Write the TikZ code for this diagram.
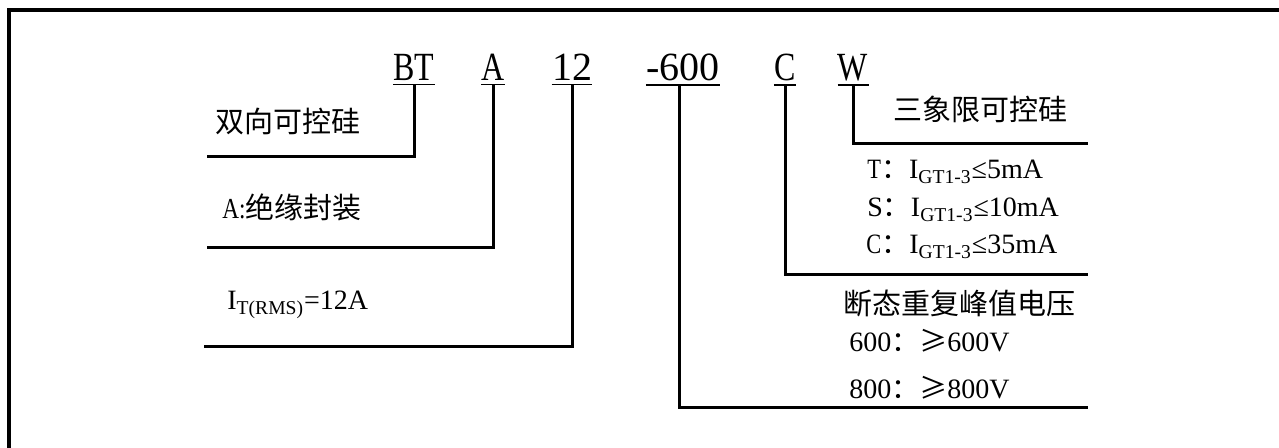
\documentclass[tikz,border=0pt]{standalone}
\usepackage{fontspec}
\setmainfont{Liberation Serif}
\newfontfamily\cjk{Noto Sans CJK SC}
\newfontfamily\codefont[FakeStretch=0.8]{Liberation Serif}

\begin{document}
\begin{tikzpicture}[
    x=0.5pt, y=-0.5pt,
    code/.style={
        font=\codefont\fontsize{20}{24}\selectfont,
        anchor=base, inner xsep=0pt, inner ysep=1.5pt
    },
    codenum/.style={code, font=\rmfamily\fontsize{20}{24}\selectfont},
    cjklabel/.style={
        font=\cjk\fontsize{14.5}{17}\selectfont,
        anchor=base west, inner sep=0pt
    },
    spec/.style={
        font=\fontsize{14}{17}\selectfont,
        anchor=base west, inner sep=0pt
    },
    lead/.style={line width=1.5pt},
    uline/.style={line width=0.8pt},
    frame/.style={line width=2pt}
]
\useasboundingbox (0,0) rectangle (1279,448);

% --------------------------------------------------------------------------
% Part number, one underlined field per code letter group.
% --------------------------------------------------------------------------
\node[code] (bt) at (414,81) {BT};
\node[code] (typa) at (493,81) {A};
\node[codenum] (amp) at (572,81) {12};
\node[codenum] (volt) at (683,81) {-600};
\node[code] (gate) at (785,81) {C};
\node[code] (quad) at (853,81) {W};

\foreach \n in {bt,typa,amp,volt,gate,quad}
    \draw[uline] (\n.south west) -- (\n.south east);

% Left-hand explanations.
\node[cjklabel] (triac) at (215,133) {双向可控硅};
\node[cjklabel] (pkg) at (222,219) {{\codefont A:}绝缘封装};
\node[spec] (irms) at (227,310) {I\textsubscript{T(RMS)}=12A};

% Right-hand explanations.
\node[cjklabel] (quadr) at (893,121) {三象限可控硅};
\node[spec] (gt) at (867,179) {{\codefont T}{\cjk ：}I\textsubscript{GT1-3}≤5mA};
\node[spec] (gs) at (867,217) {S{\cjk ：}I\textsubscript{GT1-3}≤10mA};
\node[spec] (gc) at (866,254) {{\codefont C}{\cjk ：}I\textsubscript{GT1-3}≤35mA};
\node[cjklabel] (vdrm) at (843,315) {断态重复峰值电压};
\node[spec] (v600) at (849,352) {600{\cjk ：≥}600V};
\node[spec] (v800) at (849,399) {800{\cjk ：≥}800V};

% Leader lines ends.
\coordinate (btend) at (207,157);
\coordinate (typaend) at (207,248);
\coordinate (ampend) at (204,347);
\coordinate (voltend) at (1088,408);
\coordinate (gateend) at (1088,275);
\coordinate (quadend) at (1088,144);

\draw[lead] (bt.south) |- (btend);
\draw[lead] (typa.south) |- (typaend);
\draw[lead] (amp.south) |- (ampend);
\draw[lead] ([xshift=-2pt]volt.south) |- (voltend);
\draw[lead] (gate.south) |- (gateend);
\draw[lead] (quad.south) |- (quadend);

% Frame (left and top edges only).
\draw[frame] (9,448) -- (9,10) -- (1279,10);

\end{tikzpicture}
\end{document}
